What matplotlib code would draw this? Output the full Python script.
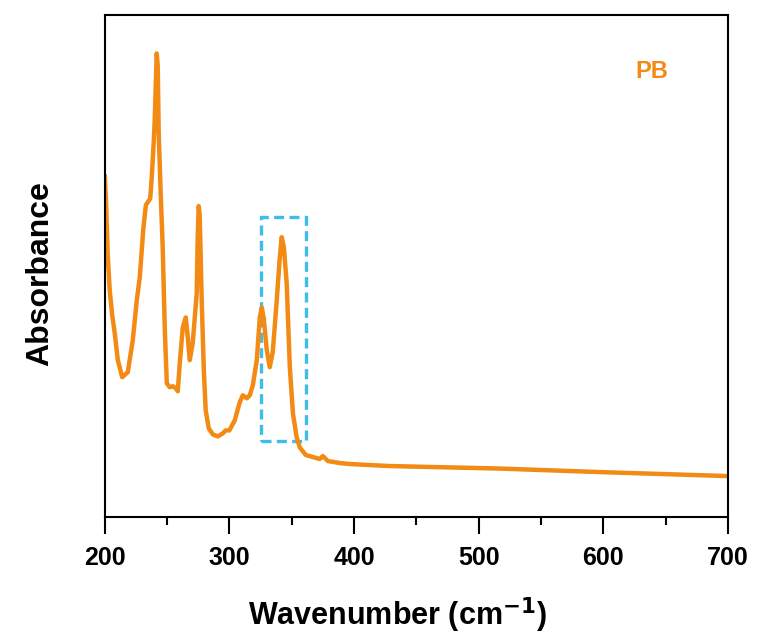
import numpy as np
import matplotlib.pyplot as plt
from matplotlib.patches import Rectangle
from matplotlib.ticker import MultipleLocator

plt.rcParams['font.family'] = ['Liberation Sans', 'DejaVu Sans']
plt.rcParams['font.weight'] = 'bold'

# spectrum (arbitrary absorbance units)
wavenumber = [200.0, 201.0, 202.4, 204.0, 206.0, 208.0, 210.5, 214.0, 218.5, 222.5,
              225.7, 228.1, 231.0, 233.0, 236.5, 237.7, 239.3, 240.1, 241.7, 242.5,
              243.3, 244.9, 246.5, 248.2, 249.8, 252.2, 254.6, 257.0, 258.6, 260.2,
              262.6, 265.0, 266.6, 268.2, 270.6, 273.8, 274.6, 275.4, 276.2, 277.8,
              279.5, 281.0, 283.5, 286.7, 290.7, 294.7, 297.1, 300.0, 304.3, 308.3,
              310.8, 314.0, 316.4, 318.8, 322.0, 324.4, 326.0, 327.6, 330.0, 332.4,
              334.8, 338.0, 340.4, 342.0, 343.7, 346.0, 348.5, 351.0, 354.0, 356.5,
              361.3, 367.0, 372.5, 375.0, 379.0, 388.6, 396.6, 428.7, 517.0, 597.0,
              700.0]
absorbance = [0.681, 0.631, 0.522, 0.452, 0.402, 0.367, 0.313, 0.279, 0.289, 0.353,
              0.432, 0.478, 0.576, 0.622, 0.635, 0.677, 0.747, 0.791, 0.924, 0.900,
              0.765, 0.645, 0.538, 0.373, 0.267, 0.259, 0.261, 0.257, 0.251, 0.307,
              0.378, 0.398, 0.359, 0.313, 0.347, 0.446, 0.560, 0.620, 0.602, 0.432,
              0.293, 0.213, 0.177, 0.165, 0.161, 0.167, 0.173, 0.173, 0.193, 0.229,
              0.243, 0.237, 0.243, 0.263, 0.313, 0.398, 0.418, 0.396, 0.333, 0.299,
              0.329, 0.432, 0.516, 0.558, 0.538, 0.466, 0.299, 0.207, 0.159, 0.139,
              0.124, 0.120, 0.116, 0.122, 0.112, 0.108, 0.106, 0.102, 0.097, 0.090,
              0.082]

# highlighted band (dashed box)
box_x = [325.2, 361.3]
box_y = [0.151, 0.598]

fig = plt.figure(figsize=(7.59, 6.37), dpi=100)
ax = fig.add_axes([0.138, 0.188, 0.821, 0.788])

ax.plot(wavenumber, absorbance, color='#f28a14', lw=3.2,
        solid_joinstyle='round', solid_capstyle='round')

ax.add_patch(Rectangle((box_x[0], box_y[0]), box_x[1] - box_x[0], box_y[1] - box_y[0],
                       fill=False, edgecolor='#3dbdea', lw=2.4, linestyle=(0, (3, 1.6))))

ax.text(652 / 759, 1 - 72 / 637, 'PB', transform=fig.transFigure, color='#f28a14',
        fontsize=17, fontweight='bold', ha='center', va='center')

ax.set_xlim(200, 700)
ax.set_ylim(0, 1)
ax.xaxis.set_major_locator(MultipleLocator(100))
ax.xaxis.set_minor_locator(MultipleLocator(50))
ax.tick_params(axis='x', which='major', length=12, width=1.5, pad=9, labelsize=18)
ax.tick_params(axis='x', which='minor', length=6, width=1.5)
ax.set_yticks([])
for s in ax.spines.values():
    s.set_linewidth(1.5)

ax.set_xlabel('Wavenumber (cm$^{\\mathbf{-1}}$)', fontsize=22, fontweight='bold')
ax.xaxis.label.set_verticalalignment('center')
ax.xaxis.set_label_coords(0.47, -(615 - 517) / 502)
ax.set_ylabel('Absorbance', fontsize=23, fontweight='bold')
ax.yaxis.label.set_verticalalignment('center')
ax.yaxis.label.set_horizontalalignment('center')
ax.yaxis.set_label_coords(-(105 - 40) / 623, (517 - 273) / 502)

fig.savefig('out.png', dpi=100)
